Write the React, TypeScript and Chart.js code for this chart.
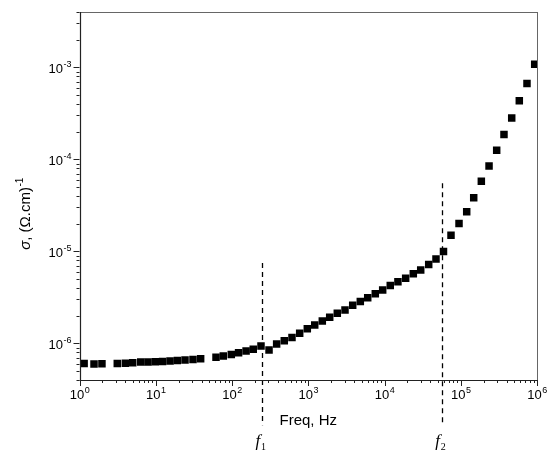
import React, { useEffect, useRef } from 'react';
import { Chart, registerables } from 'chart.js';

Chart.register(...registerables);

// Frequency (Hz) of each measured point
const freqHz = [
  1.15, 1.55, 1.97,
  3.13, 3.99, 4.99, 6.35, 7.91, 9.86, 12.3, 15.4, 19.2, 24.2, 30.8, 38.8,
  61.7, 76.9, 97.9, 122, 153, 190, 240, 306, 385, 485, 612, 772, 972,
  1216, 1529, 1911, 2404, 3034, 3828, 4817, 6025, 7574, 9466,
  11900, 15000, 18950, 23870, 29850, 38000, 47350, 59400, 74500, 94900,
  119700, 147900, 186200, 235000, 296000, 369000, 466000, 586000, 739000, 933000,
];

// Conductivity sigma (Ohm.cm)^-1
const sigma = [
  6.03e-7, 5.96e-7, 6.0e-7,
  6.06e-7, 6.1e-7, 6.15e-7, 6.26e-7, 6.26e-7, 6.31e-7, 6.34e-7, 6.42e-7, 6.5e-7, 6.58e-7, 6.7e-7, 6.8e-7,
  7.05e-7, 7.28e-7, 7.59e-7, 7.91e-7, 8.25e-7, 8.61e-7, 9.35e-7, 8.46e-7, 9.83e-7, 1.067e-6, 1.16e-6, 1.285e-6, 1.442e-6,
  1.58e-6, 1.747e-6, 1.918e-6, 2.12e-6, 2.3e-6, 2.59e-6, 2.86e-6, 3.13e-6, 3.46e-6, 3.8e-6,
  4.27e-6, 4.67e-6, 5.09e-6, 5.71e-6, 6.27e-6, 7.22e-6, 8.25e-6, 9.95e-6, 1.5e-5, 2.01e-5,
  2.69e-5, 3.83e-5, 5.77e-5, 8.45e-5, 1.26e-4, 1.87e-4, 2.81e-4, 4.33e-4, 6.7e-4, 1.08e-3,
];

const xTickExponents = [0, 1, 2, 3, 4, 5, 6];
const yTickExponents = [-6, -5, -4, -3];
const xRange = [1, 1e6];
const yRange = [4e-7, 4e-3];

// Characteristic frequencies f1, f2 (dashed markers)
const markerFreqs = [247, 56300];
const markerTops = [7.46e-6, 5.52e-5];
const markerBottom = 1.29e-7;
const markerSubscripts = ['1', '2'];

const xTitle = 'Freq, Hz';
const yTitleSymbol = 'σ';
const yTitleRest = ', (Ω.cm)';
const yTitleExp = '-1';

const SANS = 'Arial, "Liberation Sans", sans-serif';
const SERIF = '"Times New Roman", "Liberation Serif", serif';

const decorPlugin = {
  id: 'decor',
  beforeDatasetsDraw(chart: any) {
    const ctx = chart.ctx;
    const xs = chart.scales.x;
    const ys = chart.scales.y;
    ctx.save();
    ctx.strokeStyle = '#000';
    ctx.lineWidth = 1.3;
    ctx.setLineDash([5, 4]);
    markerFreqs.forEach((f, i) => {
      const px = Math.round(xs.getPixelForValue(f)) + 0.5;
      ctx.beginPath();
      ctx.moveTo(px, ys.getPixelForValue(markerTops[i]));
      ctx.lineTo(px, ys.getPixelForValue(markerBottom));
      ctx.stroke();
    });
    ctx.restore();
  },
  afterDraw(chart: any) {
    const ctx = chart.ctx;
    const xs = chart.scales.x;
    const ys = chart.scales.y;
    const { left, right, top, bottom } = chart.chartArea;
    ctx.save();
    ctx.setLineDash([]);

    // frame
    ctx.lineWidth = 1;
    ctx.strokeStyle = '#666';
    ctx.beginPath();
    ctx.moveTo(left, Math.round(top) + 0.5);
    ctx.lineTo(right, Math.round(top) + 0.5);
    ctx.moveTo(Math.round(right) + 0.5, top);
    ctx.lineTo(Math.round(right) + 0.5, bottom);
    ctx.stroke();

    ctx.strokeStyle = '#222';
    ctx.lineWidth = 1.2;
    ctx.beginPath();
    ctx.moveTo(Math.round(left) + 0.5, top);
    ctx.lineTo(Math.round(left) + 0.5, bottom + 0.5);
    ctx.moveTo(left, Math.round(bottom) + 0.5);
    ctx.lineTo(right + 1, Math.round(bottom) + 0.5);
    ctx.stroke();

    // x ticks
    ctx.lineWidth = 1;
    ctx.beginPath();
    for (let d = Math.round(Math.log10(xRange[0])); d <= Math.round(Math.log10(xRange[1])); d++) {
      for (let m = 1; m <= 9; m++) {
        const v = m * Math.pow(10, d);
        if (v < xRange[0] * 0.999 || v > xRange[1] * 1.001) continue;
        const px = Math.round(xs.getPixelForValue(v)) + 0.5;
        const len = m === 1 ? 6 : 3;
        ctx.moveTo(px, bottom);
        ctx.lineTo(px, bottom + len);
      }
    }
    // y ticks
    for (let d = Math.floor(Math.log10(yRange[0])); d <= Math.floor(Math.log10(yRange[1])); d++) {
      for (let m = 1; m <= 9; m++) {
        const v = m * Math.pow(10, d);
        if (v < yRange[0] * 0.999 || v > yRange[1] * 1.001) continue;
        const py = Math.round(ys.getPixelForValue(v)) + 0.5;
        const len = m === 1 ? 6 : 3;
        ctx.moveTo(left, py);
        ctx.lineTo(left - len, py);
      }
    }
    ctx.stroke();

    // tick labels
    ctx.fillStyle = '#000';
    ctx.textBaseline = 'alphabetic';
    ctx.textAlign = 'left';
    const base = '13px ' + SANS;
    const sup = '9px ' + SANS;
    xTickExponents.forEach((e) => {
      const px = xs.getPixelForValue(Math.pow(10, e));
      ctx.font = base;
      const w1 = ctx.measureText('10').width;
      ctx.font = sup;
      const w2 = ctx.measureText(String(e)).width;
      const x0 = px - (w1 + w2) / 2;
      const by = bottom + 19;
      ctx.font = base;
      ctx.fillText('10', x0, by);
      ctx.font = sup;
      ctx.fillText(String(e), x0 + w1 + 0.5, by - 6);
    });
    yTickExponents.forEach((e) => {
      const py = ys.getPixelForValue(Math.pow(10, e));
      ctx.font = base;
      const w1 = ctx.measureText('10').width;
      ctx.font = sup;
      const w2 = ctx.measureText(String(e)).width;
      const x0 = left - 8 - (w1 + w2 + 0.5);
      const by = py + 6;
      ctx.font = base;
      ctx.fillText('10', x0, by);
      ctx.font = sup;
      ctx.fillText(String(e), x0 + w1 + 0.5, by - 6);
    });

    // x title
    ctx.font = '15px ' + SANS;
    ctx.textAlign = 'center';
    ctx.fillText(xTitle, (left + right) / 2, bottom + 45);

    // y title (rotated)
    ctx.save();
    ctx.translate(25, (top + bottom) / 2 + 18);
    ctx.rotate(-Math.PI / 2);
    ctx.textAlign = 'left';
    const fSym = 'italic 15px ' + SANS;
    const fMain = '15px ' + SANS;
    const fExp = '10px ' + SANS;
    ctx.font = fSym;
    const a = ctx.measureText(yTitleSymbol).width;
    ctx.font = fMain;
    const b = ctx.measureText(yTitleRest).width;
    ctx.font = fExp;
    const c = ctx.measureText(yTitleExp).width;
    const sx = -(a + b + c) / 2;
    ctx.font = fSym;
    ctx.fillText(yTitleSymbol, sx, 5);
    ctx.font = fMain;
    ctx.fillText(yTitleRest, sx + a, 5);
    ctx.font = fExp;
    ctx.fillText(yTitleExp, sx + a + b + 0.5, -2);
    ctx.restore();

    // f1, f2 labels
    markerFreqs.forEach((f, i) => {
      const px = xs.getPixelForValue(f);
      ctx.font = 'italic 17px ' + SERIF;
      ctx.textAlign = 'center';
      ctx.fillText('f', px - 4, bottom + 66);
      ctx.font = '10px ' + SERIF;
      ctx.textAlign = 'left';
      ctx.fillText(markerSubscripts[i], px - 1, bottom + 70);
    });

    ctx.restore();
  },
};

export default function App() {
  const ref = useRef<HTMLCanvasElement | null>(null);
  useEffect(() => {
    if (!ref.current) return;
    const chart = new Chart(ref.current, {
      type: 'scatter',
      data: {
        datasets: [
          {
            data: freqHz.map((f, i) => ({ x: f, y: sigma[i] })),
            pointStyle: 'rect',
            pointRadius: 5.3,
            pointHoverRadius: 5.3,
            pointBackgroundColor: '#000',
            pointBorderColor: '#000',
            pointBorderWidth: 0,
            showLine: false,
          } as any,
        ],
      },
      options: {
        responsive: false,
        animation: false,
        events: [],
        layout: { padding: { left: 79.5, right: 12, top: 12, bottom: 78 } },
        plugins: { legend: { display: false }, tooltip: { enabled: false } },
        scales: {
          x: { type: 'logarithmic', min: xRange[0], max: xRange[1], display: false },
          y: { type: 'logarithmic', min: yRange[0], max: yRange[1], display: false },
        },
      },
      plugins: [decorPlugin],
    });
    return () => chart.destroy();
  }, []);
  return (
    <div style={{ position: 'absolute', left: 0, top: 0, width: 549, height: 458, background: '#fff' }}>
      <canvas ref={ref} width={549} height={458} />
    </div>
  );
}
